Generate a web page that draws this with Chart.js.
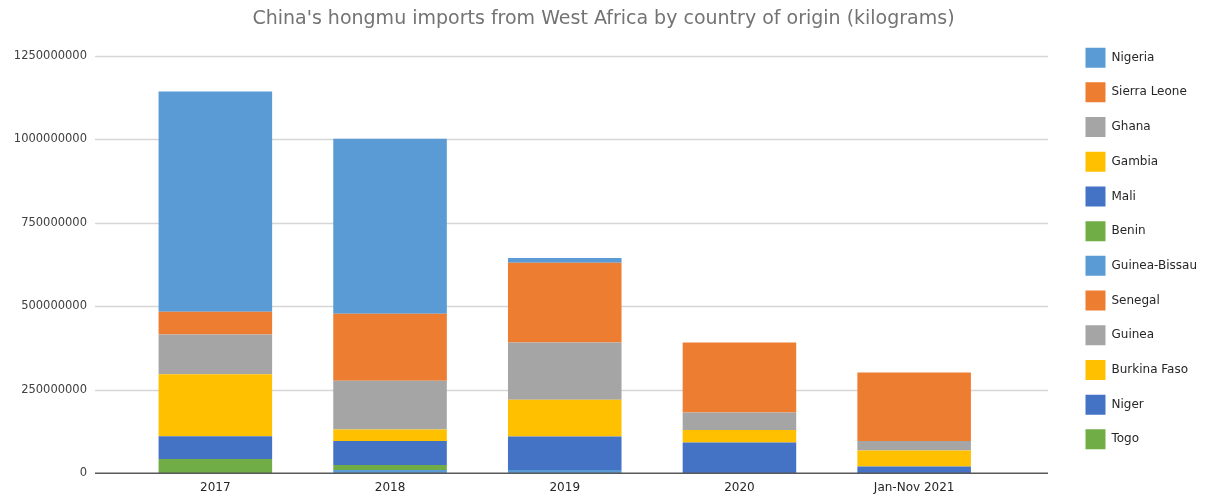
<!DOCTYPE html>
<html>
<head>
<meta charset="utf-8">
<script src="https://cdn.jsdelivr.net/npm/chart.js@4"></script>
<style>
  body { margin: 0; background: #fff; }
</style>
</head>
<body>
<canvas id="chart" width="1208" height="497"></canvas>
<script>
var years = ['2017', '2018', '2019', '2020', 'Jan-Nov 2021'];

// stack order, bottom to top
var togo         = [0, 0, 0, 0, 0];
var niger        = [0, 0, 0, 0, 0];
var burkinaFaso  = [0, 0, 0, 0, 0];
var guinea       = [0, 0, 0, 0, 0];
var senegal      = [0, 0, 0, 0, 0];
var guineaBissau = [0, 10000000, 10000000, 0, 0];
var benin        = [43000000, 15000000, 0, 0, 0];
var mali         = [68000000, 72000000, 100000000, 92000000, 20000000];
var gambia       = [186000000, 34000000, 110000000, 38000000, 48000000];
var ghana        = [119000000, 146000000, 172000000, 52000000, 29000000];
var sierraLeone  = [68000000, 201000000, 239000000, 210000000, 205000000];
var nigeria      = [660000000, 524000000, 14000000, 0, 0];

var yTicks = [0, 250000000, 500000000, 750000000, 1000000000, 1250000000];

var blue = '#5b9bd5', orange = '#ed7d31', grey = '#a5a5a5',
    gold = '#ffc000', navy = '#4472c4', green = '#70ad47';

Chart.defaults.font.family = "'DejaVu Sans', sans-serif";
Chart.defaults.color = '#404040';

// long grid lines like the spreadsheet version
var gridPlugin = {
    id: 'longGrid',
    beforeDatasetsDraw: function (chart) {
        var c = chart.ctx, y = chart.scales.y;
        c.save();
        c.strokeStyle = '#d6d6d6';
        c.lineWidth = 1.5;
        yTicks.forEach(function (t) {
            if (t === 0) return;
            var py = Math.round(y.getPixelForValue(t)) + 0.5;
            c.beginPath();
            c.moveTo(95, py);
            c.lineTo(1048, py);
            c.stroke();
        });
        c.restore();
    },
    afterDatasetsDraw: function (chart) {
        var c = chart.ctx, y = chart.scales.y;
        var py = y.getPixelForValue(0);
        c.save();
        c.strokeStyle = '#595959';
        c.lineWidth = 1.5;
        c.beginPath();
        c.moveTo(95, py);
        c.lineTo(1048, py);
        c.stroke();
        c.restore();
    }
};

new Chart(document.getElementById('chart').getContext('2d'), {
    type: 'bar',
    data: {
        labels: years,
        datasets: [
            { label: 'Togo', data: togo, backgroundColor: green },
            { label: 'Niger', data: niger, backgroundColor: navy },
            { label: 'Burkina Faso', data: burkinaFaso, backgroundColor: gold },
            { label: 'Guinea', data: guinea, backgroundColor: grey },
            { label: 'Senegal', data: senegal, backgroundColor: orange },
            { label: 'Guinea-Bissau', data: guineaBissau, backgroundColor: blue },
            { label: 'Benin', data: benin, backgroundColor: green },
            { label: 'Mali', data: mali, backgroundColor: navy },
            { label: 'Gambia', data: gambia, backgroundColor: gold },
            { label: 'Ghana', data: ghana, backgroundColor: grey },
            { label: 'Sierra Leone', data: sierraLeone, backgroundColor: orange },
            { label: 'Nigeria', data: nigeria, backgroundColor: blue }
        ]
    },
    options: {
        responsive: false,
        animation: false,
        datasets: { bar: { barPercentage: 0.65, categoryPercentage: 1, borderWidth: 0 } },
        layout: { padding: { left: 0, right: 1, top: 0, bottom: 0 } },
        plugins: {
            tooltip: { enabled: false },
            title: {
                display: true,
                text: "China's hongmu imports from West Africa by country of origin (kilograms)",
                color: '#737373',
                font: { size: 19, weight: 'normal' },
                padding: { top: 7.5, bottom: 4 }
            },
            legend: {
                position: 'right',
                align: 'center',
                reverse: true,
                labels: {
                    boxWidth: 20,
                    boxHeight: 20,
                    padding: 14.7,
                    color: '#262626',
                    font: { size: 12 }
                }
            }
        },
        scales: {
            x: {
                stacked: true,
                grid: { display: false, drawTicks: true, tickLength: 5.7 },
                border: { display: false },
                ticks: { padding: 1.8, color: '#262626', font: { size: 12 } }
            },
            xTop: {
                type: 'category',
                position: 'top',
                grid: { display: false, drawTicks: false },
                border: { display: false },
                ticks: { display: false },
                afterFit: function (s) { s.height = 21.7; }
            },
            y: {
                stacked: true,
                min: 0,
                max: 1250000000,
                afterBuildTicks: function (s) {
                    s.ticks = yTicks.map(function (v) { return { value: v }; });
                },
                grid: { display: false, drawTicks: true, tickLength: 34 },
                border: { display: false },
                ticks: {
                    padding: 7,
                    color: '#404040',
                    font: { size: 11.5 },
                    callback: function (v) { return String(v); }
                },
                afterFit: function (s) { s.width = 128; }
            },
            yRight: {
                position: 'right',
                grid: { display: false, drawTicks: false },
                border: { display: false },
                ticks: { display: false },
                afterFit: function (s) { s.width = 69.3; }
            }
        }
    },
    plugins: [gridPlugin]
});
</script>
</body>
</html>
